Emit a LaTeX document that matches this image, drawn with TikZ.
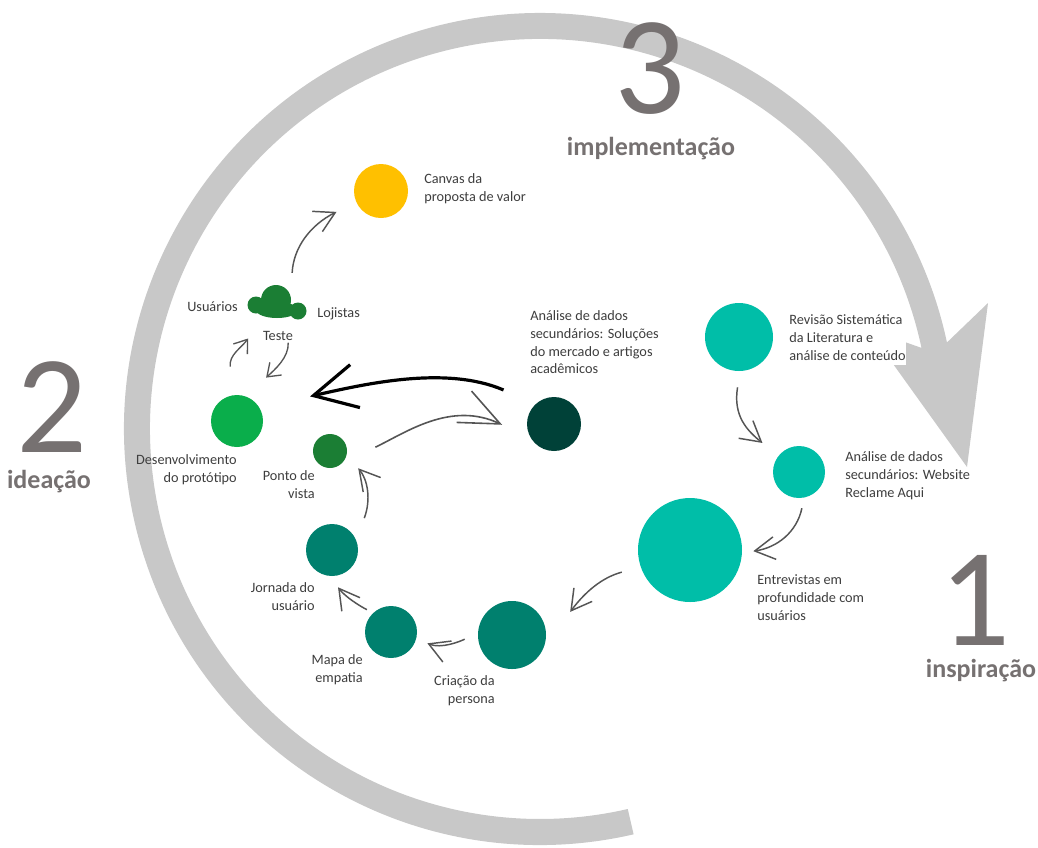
\documentclass[tikz,border=0pt]{standalone}
\usepackage{fontspec}
\setmainfont{Carlito}
\usetikzlibrary{arrows.meta}
\definecolor{bandgray}{RGB}{200,200,200}
\definecolor{numgray}{RGB}{118,113,113}
\definecolor{labelgray}{RGB}{62,62,62}
\definecolor{arrowgray}{RGB}{85,85,85}
\definecolor{yellowc}{RGB}{255,192,0}
\definecolor{greenc}{RGB}{10,174,75}
\definecolor{dgreenc}{RGB}{27,126,52}
\definecolor{tealc}{RGB}{0,128,110}
\definecolor{turqc}{RGB}{0,190,168}
\definecolor{darkc}{RGB}{0,65,56}
\begin{document}
\begin{tikzpicture}[x=0.75pt,y=-0.75pt,
  blob/.style={circle,inner sep=0pt,minimum size=#1},
  lbl/.style={font=\fontsize{10.7}{13.2}\selectfont,text=labelgray,inner sep=0pt,execute at begin node=\strut},
  lbl1/.style={font=\fontsize{10.7}{13.2}\selectfont,text=labelgray,inner sep=0pt},
  digit/.style={font=\fontsize{105}{105}\selectfont,text=numgray,inner sep=0pt,text height=66pt,text depth=0pt},
  phase/.style={font=\bfseries\fontsize{19.5}{22}\selectfont,text=numgray,inner sep=0pt},
  flow/.style={draw=arrowgray,line width=1.1pt,-{Straight Barb[length=15pt,width=17pt]}},
  flowsmall/.style={draw=arrowgray,line width=1pt,-{Straight Barb[length=9pt,width=13pt]}},
  flowbig/.style={draw=arrowgray,line width=1.2pt,-{Straight Barb[length=30pt,width=26pt]}},
  bold arrow/.style={draw=black,line width=2.4pt,-{Straight Barb[length=32pt,width=33pt]}}
]
\useasboundingbox (0,0) rectangle (1038,847);
\fill[white] (0,0) rectangle (1038,847);

% big grey cycle arrow
\fill[bandgray] (633.6,834.3) arc[start angle=77,end angle=348,radius=416]
  -- (988,303) -- (967,467) -- (868,329) -- (921.5,347.9)
  arc[start angle=348,end angle=77,radius=390] -- cycle;

% circles
\node[blob=40.5pt,fill=yellowc] (canvas) at (381,191) {};
\node[blob=39pt,fill=greenc] (dev) at (237,421) {};
\node[blob=25.5pt,fill=dgreenc] (ponto) at (330,451) {};
\node[blob=39pt,fill=tealc] (jornada) at (332,550) {};
\node[blob=39pt,fill=tealc] (mapa) at (391,632) {};
\node[blob=51pt,fill=tealc] (cri) at (512,635) {};
\node[blob=78pt,fill=turqc] (entr) at (690,550) {};
\node[blob=39pt,fill=turqc] (web) at (799,472) {};
\node[blob=51pt,fill=turqc] (rev) at (739,337) {};
\node[blob=40.5pt,fill=darkc] (sol) at (554,424) {};

% cloud (Teste)
\node[blob=33pt] (cloud) at (277,308) {};
\fill[dgreenc] (276,300) circle[radius=15] (256,305) circle[radius=8.5]
  (298,311) circle[radius=8.5] (277,310) ellipse[x radius=21,y radius=8];

% connectors
\draw[flow,shorten <=12.2pt,shorten >=15.3pt] (rev.-88) .. controls +(-7.4,45) and +(-30.7,-24.9) .. (web.142);
\draw[flow,shorten <=8pt,shorten >=8.4pt] (web.-79) .. controls +(-7,34) and +(35,-5) .. (entr.-3);
\draw[flow,shorten <=14.6pt,shorten >=32.6pt] (entr.199) .. controls +(-38.6,10.5) and +(41,-55) .. (cri.-20);
\draw[flow,shorten <=11pt,shorten >=8.9pt] (cri.176) .. controls +(-18,9) and +(24.7,10.2) .. (mapa.-15);
\draw[flow,shorten <=5.2pt,shorten >=10.4pt] (mapa.133) .. controls +(-13.4,-6.8) and +(15.5,20.7) .. (jornada.265);
\draw[flow,shorten <=17.3pt,shorten >=13.3pt] (jornada.23) .. controls +(15,-40) and +(20.9,25.2) .. (ponto.-12);
\draw[flowbig,shorten <=27.2pt,shorten >=23.9pt] (ponto.-43) .. controls +(63,-30) and +(-80,-38) .. (sol.212);
\draw[bold arrow,shorten <=26.3pt,shorten >=38.7pt] (sol.132) .. controls +(-89,-38) and +(108.6,-24.8) .. (dev.30);
\draw[flowsmall,shorten <=11.3pt,shorten >=20.6pt] (cloud.-62) .. controls +(1.5,30) and +(28.5,-26.5) .. (dev.70);
\draw[flowsmall,shorten <=21.4pt,shorten >=15pt] (dev.97) .. controls +(-5,-40) and +(-19,26) .. (cloud.220);
\draw[flow,shorten <=13.6pt,shorten >=16.4pt] (cloud.50) .. controls +(2,-43) and +(-46,23) .. (canvas.204);

% labels
\node[lbl,align=left,anchor=north west] (canvasL) at (424,173.8) {Canvas da\\proposta de valor};
\node[lbl1,anchor=base west] (usuariosL) at (187,311) {Usuários};
\node[lbl1,anchor=base west] (lojistasL) at (317,317) {Lojistas};
\node[lbl1,anchor=base] (testeL) at (278,340) {Teste};
\node[lbl,align=right,anchor=north east] (devL) at (237,454.8) {Desenvolvimento\\do protótipo};
\node[lbl,align=right,anchor=north east] (pontoL) at (315,470.8) {Ponto de\\vista};
\node[lbl,align=right,anchor=north east] (jornadaL) at (315,582.8) {Jornada do\\usuário};
\node[lbl,align=right,anchor=north east] (mapaL) at (363,654.8) {Mapa de\\empatia};
\node[lbl,align=right,anchor=north east] (criL) at (495,675.8) {Criação da\\persona};
\node[lbl,align=left,anchor=north west] (entrL) at (757,574.8) {Entrevistas em\\profundidade com\\usuários};
\node[lbl,align=left,anchor=north west] (webL) at (845,451.8) {Análise de dados\\secundários: Website\\Reclame Aqui};
\node[lbl,align=left,anchor=north west,fill=white] (revL) at (789,314.8) {Revisão Sistemática\\da Literatura e\\análise de conteúdo};
\node[lbl,align=left,anchor=north west] (solL) at (530,310.8) {Análise de dados\\secundários: Soluções\\do mercado e artigos\\acadêmicos};

% phases
\node[digit,anchor=base] (n3) at (650,113) {3};
\node[phase,anchor=base] (p3) at (651,155) {implementação};
\node[digit,anchor=base] (n2) at (52,452) {2};
\node[phase,anchor=base] (p2) at (49,488) {ideação};
\node[digit,anchor=base] (n1) at (975,645) {1};
\node[phase,anchor=base] (p1) at (981,677) {inspiração};
\end{tikzpicture}
\end{document}
